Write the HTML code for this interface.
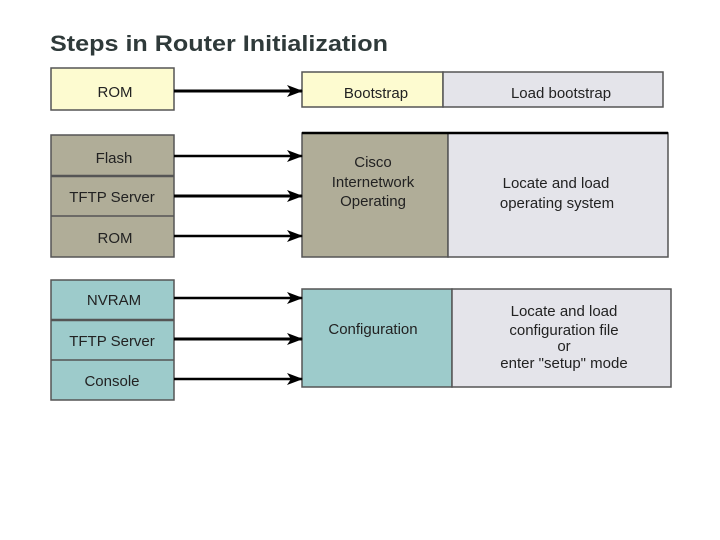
<!DOCTYPE html>
<html><head><style>
html,body{margin:0;padding:0;background:#fff;}
svg{display:block;}
text{font-family:"Liberation Sans",sans-serif;fill:#222;}
</style></head><body>
<svg width="720" height="540" viewBox="0 0 720 540">
<defs><marker id="a" markerWidth="16" markerHeight="12" refX="15" refY="6" orient="auto" markerUnits="userSpaceOnUse"><path d="M0,0 L16,6 L0,12 L4,6 Z" fill="#000"/></marker></defs>
<text x="50" y="51" font-size="22" font-weight="bold" textLength="338" lengthAdjust="spacingAndGlyphs" style="fill:#2f3a3a">Steps in Router Initialization</text>

<g stroke="#555" stroke-width="1.5">
<rect x="51" y="68" width="123" height="42" fill="#fdfbd0"/>
<rect x="51" y="135" width="123" height="122" fill="#b0ad98"/>
<line x1="51" y1="176" x2="174" y2="176" stroke-width="2.5"/>
<line x1="51" y1="216" x2="174" y2="216"/>
<rect x="51" y="280" width="123" height="120" fill="#9dcbcb"/>
<line x1="51" y1="320" x2="174" y2="320" stroke-width="2.5"/>
<line x1="51" y1="360" x2="174" y2="360"/>

<rect x="302" y="72" width="141" height="35" fill="#fdfbd0"/>
<rect x="443" y="72" width="220" height="35" fill="#e4e4ea"/>
<rect x="302" y="133" width="146" height="124" fill="#b0ad98"/>
<rect x="448" y="133" width="220" height="124" fill="#e4e4ea"/>
<line x1="302" y1="133" x2="668" y2="133" stroke="#000" stroke-width="2.5"/>
<rect x="302" y="289" width="150" height="98" fill="#9dcbcb"/>
<rect x="452" y="289" width="219" height="98" fill="#e4e4ea"/>
</g>

<g stroke="#000" stroke-width="3" marker-end="url(#a)">
<line x1="174" y1="91" x2="302" y2="91"/>
<line x1="174" y1="156" x2="302" y2="156" stroke-width="2.5"/>
<line x1="174" y1="196" x2="302" y2="196"/>
<line x1="174" y1="236" x2="302" y2="236" stroke-width="2.5"/>
<line x1="174" y1="298" x2="302" y2="298" stroke-width="2.5"/>
<line x1="174" y1="339" x2="302" y2="339"/>
<line x1="174" y1="379" x2="302" y2="379" stroke-width="2.5"/>
</g>

<g font-size="15" text-anchor="middle">
<text x="115" y="97">ROM</text>
<text x="114" y="163">Flash</text>
<text x="112" y="202">TFTP Server</text>
<text x="115" y="243">ROM</text>
<text x="114" y="305">NVRAM</text>
<text x="112" y="346">TFTP Server</text>
<text x="112" y="386">Console</text>
<text x="376" y="98">Bootstrap</text>
<text x="561" y="98">Load bootstrap</text>
<text x="373" y="167">Cisco</text>
<text x="373" y="187">Internetwork</text>
<text x="373" y="206">Operating</text>
<text x="556" y="188">Locate and load</text>
<text x="557" y="208">operating system</text>
<text x="373" y="334">Configuration</text>
<text x="564" y="316">Locate and load</text>
<text x="564" y="335">configuration file</text>
<text x="564" y="351">or</text>
<text x="564" y="368">enter "setup" mode</text>
</g>
</svg>
</body></html>
